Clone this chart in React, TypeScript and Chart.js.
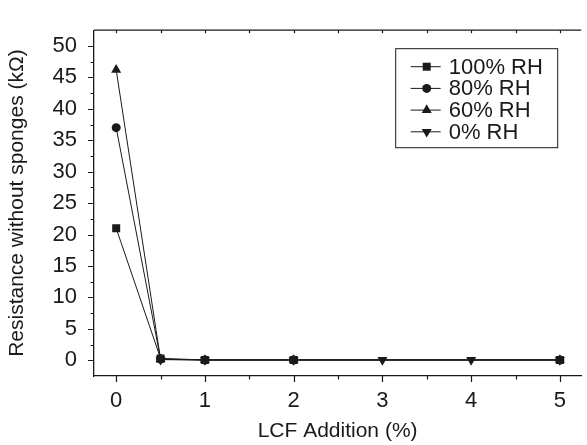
import React, { useEffect, useRef } from "react";
import { Chart, registerables } from "chart.js";

Chart.register(...registerables);

const X_VALUES = [0, 0.5, 1, 2, 3, 4, 5];
const RH100 = [21, 0.3, 0.05, 0.05, null, null, 0.05];
const RH80 = [37, 0.2, 0.05, 0.05, null, null, 0.05];
const RH60 = [46.2, 0.15, 0.05, 0.05, null, null, 0.05];
const RH0 = [null, 0.1, 0.05, 0.05, 0.05, 0.05, 0.05];
const SERIES_LABELS = ["100% RH", "80% RH", "60% RH", "0% RH"];
const SERIES_STYLES = ["rect", "circle", "triangle", "triangleDown"];

const X_TICKS = [0, 1, 2, 3, 4, 5];
const X_MINOR = [0.5, 1.5, 2.5, 3.5, 4.5];
const Y_TICKS = [0, 5, 10, 15, 20, 25, 30, 35, 40, 45, 50];
const Y_MINOR = [2.5, 7.5, 12.5, 17.5, 22.5, 27.5, 32.5, 37.5, 42.5, 47.5];

const X_TITLE = "LCF Addition (%)";
const Y_TITLE = "Resistance without sponges (kΩ)";

const FONT = "'Liberation Sans', Arial, Helvetica, sans-serif";
const INK = "#1a1a1a";

function toPoints(arr: (number | null)[]) {
  return X_VALUES.map((x, i) => ({ x, y: arr[i] })).filter((p) => p.y !== null) as { x: number; y: number }[];
}

function drawMarker(ctx: CanvasRenderingContext2D, style: string, x: number, y: number) {
  ctx.beginPath();
  if (style === "rect") {
    const s = 4;
    ctx.rect(x - s, y - s, 2 * s, 2 * s);
  } else if (style === "circle") {
    ctx.arc(x, y, 4.5, 0, Math.PI * 2);
  } else if (style === "triangle") {
    const r = 5.8;
    ctx.moveTo(x, y - r);
    ctx.lineTo(x + r * 0.866, y + r / 2);
    ctx.lineTo(x - r * 0.866, y + r / 2);
    ctx.closePath();
  } else {
    const r = 5.8;
    ctx.moveTo(x, y + r);
    ctx.lineTo(x + r * 0.866, y - r / 2);
    ctx.lineTo(x - r * 0.866, y - r / 2);
    ctx.closePath();
  }
  ctx.fill();
}

const decorPlugin = {
  id: "decor",
  afterDraw(chart: any) {
    const ctx: CanvasRenderingContext2D = chart.ctx;
    const xs = chart.scales.x;
    const ys = chart.scales.y;
    const { left, top, bottom, right } = chart.chartArea;
    ctx.save();
    ctx.strokeStyle = INK;
    ctx.lineWidth = 1.3;
    // top frame line
    ctx.beginPath();
    ctx.moveTo(left, top);
    ctx.lineTo(right, top);
    ctx.stroke();
    ctx.lineWidth = 1.2;
    ctx.beginPath();
    // bottom ticks (outward)
    X_TICKS.forEach((v) => {
      const px = Math.round(xs.getPixelForValue(v)) + 0.5;
      ctx.moveTo(px, bottom);
      ctx.lineTo(px, bottom + 6);
    });
    X_MINOR.forEach((v) => {
      const px = Math.round(xs.getPixelForValue(v)) + 0.5;
      ctx.moveTo(px, bottom);
      ctx.lineTo(px, bottom + 3.5);
    });
    // top ticks (inward)
    [...X_TICKS, ...X_MINOR].forEach((v) => {
      const px = Math.round(xs.getPixelForValue(v)) + 0.5;
      ctx.moveTo(px, top);
      ctx.lineTo(px, top + 3);
    });
    // left ticks (outward)
    Y_TICKS.forEach((v) => {
      const py = Math.round(ys.getPixelForValue(v)) + 0.5;
      ctx.moveTo(left, py);
      ctx.lineTo(left - 6, py);
    });
    Y_MINOR.forEach((v) => {
      const py = Math.round(ys.getPixelForValue(v)) + 0.5;
      ctx.moveTo(left, py);
      ctx.lineTo(left - 3.5, py);
    });
    ctx.stroke();

    // legend
    const boxL = right - 185.5;
    const boxT = top + 18.5;
    const boxW = 162;
    const boxH = 99;
    ctx.lineWidth = 1;
    ctx.strokeRect(boxL, boxT, boxW, boxH);
    ctx.font = `22px ${FONT}`;
    ctx.textBaseline = "middle";
    ctx.textAlign = "left";
    ctx.fillStyle = INK;
    SERIES_LABELS.forEach((label, i) => {
      const cy = boxT + 18 + i * 21.7;
      ctx.beginPath();
      ctx.moveTo(boxL + 15, cy);
      ctx.lineTo(boxL + 45, cy);
      ctx.stroke();
      drawMarker(ctx, SERIES_STYLES[i], boxL + 31, cy);
      ctx.fillText(label, boxL + 53, cy + 1);
    });
    ctx.restore();
  },
};

export default function App() {
  const canvasRef = useRef<HTMLCanvasElement | null>(null);

  useEffect(() => {
    const canvas = canvasRef.current;
    if (!canvas) return;
    Chart.defaults.font.family = FONT;
    const series = [RH100, RH80, RH60, RH0];
    const datasets = series.map((arr, i) => {
      const style = SERIES_STYLES[i];
      return {
        label: SERIES_LABELS[i],
        data: toPoints(arr),
        borderColor: INK,
        backgroundColor: INK,
        borderWidth: 1,
        pointStyle: style === "triangleDown" ? "triangle" : style,
        pointRotation: style === "triangleDown" ? 180 : 0,
        pointRadius: style === "rect" ? 5.66 : style === "circle" ? 4.5 : 5.8,
        pointBorderWidth: 0,
        tension: 0,
        fill: false,
      };
    });
    const chart = new Chart(canvas, {
      type: "line",
      data: { datasets },
      options: {
        responsive: false,
        animation: false,
        layout: { padding: { top: 8, right: 0, left: 0, bottom: 0 } },
        plugins: {
          legend: { display: false },
          tooltip: { enabled: false },
        },
        scales: {
          x: {
            type: "linear",
            min: -0.25,
            max: 5.24,
            afterBuildTicks: (s: any) => {
              s.ticks = X_TICKS.map((v) => ({ value: v }));
            },
            afterFit: (s: any) => {
              s.height = 69;
            },
            grid: { display: false, drawTicks: false },
            border: { display: true, color: INK, width: 1.3 },
            ticks: {
              color: INK,
              font: { size: 22 },
              padding: 12,
              maxRotation: 0,
              callback: (v: any) => String(v),
            },
            title: {
              display: true,
              text: X_TITLE,
              color: INK,
              font: { size: 21 },
              padding: { top: 0, bottom: 1 },
            },
          },
          y: {
            type: "linear",
            min: -2.5,
            max: 52.5,
            afterBuildTicks: (s: any) => {
              s.ticks = Y_TICKS.map((v) => ({ value: v }));
            },
            afterFit: (s: any) => {
              s.width = 94;
            },
            grid: { display: false, drawTicks: false },
            border: { display: true, color: INK, width: 1.3 },
            ticks: {
              color: INK,
              font: { size: 22 },
              padding: 17,
              callback: (v: any) => String(v),
            },
            title: {
              display: true,
              text: Y_TITLE,
              color: INK,
              font: { size: 21 },
              padding: { top: 5, bottom: 0 },
            },
          },
        },
      } as any,
      plugins: [decorPlugin],
    });
    return () => chart.destroy();
  }, []);

  return (
    <div style={{ position: "fixed", left: 0, top: 0, width: 587, height: 445, background: "#fff" }}>
      <canvas ref={canvasRef} width={587} height={445} style={{ display: "block" }} />
    </div>
  );
}
